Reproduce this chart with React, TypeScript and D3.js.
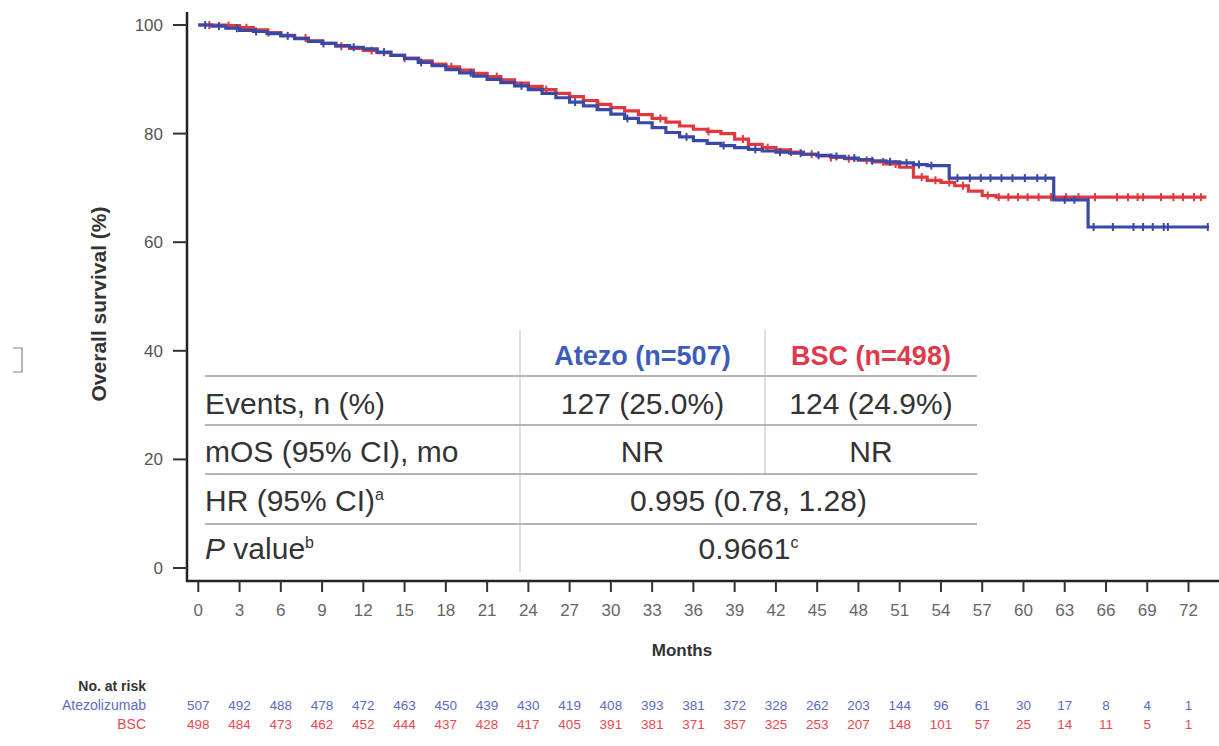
import { useMemo } from "react";
import * as d3 from "d3";

const xTicks = [0, 3, 6, 9, 12, 15, 18, 21, 24, 27, 30, 33, 36, 39, 42, 45, 48, 51, 54, 57, 60, 63, 66, 69, 72];
const yTicks = [0, 20, 40, 60, 80, 100];

// Atezolizumab KM steps
const atezoTimes = [0, 1, 2, 3, 4, 5, 6, 7, 8, 9, 10, 11, 12, 13, 14, 15, 16, 17, 18, 19, 20, 21, 22, 23, 24, 25, 26, 27, 28, 29, 30, 31, 32, 33, 34, 35, 36, 37, 38, 39, 40, 41, 42, 43, 44, 45, 46, 47, 48, 49, 50, 51, 52, 53, 54.6, 62.2, 64.7, 73.5];
const atezoSurv = [100, 99.8, 99.4, 99.0, 98.8, 98.4, 98.0, 97.5, 97.0, 96.6, 96.2, 95.9, 95.6, 95.0, 94.4, 93.8, 93.1, 92.5, 91.8, 91.2, 90.6, 90.0, 89.4, 88.8, 88.1, 87.4, 86.6, 85.8, 85.1, 84.4, 83.6, 82.8, 82.0, 81.1, 80.2, 79.4, 78.7, 78.2, 77.8, 77.4, 77.1, 76.8, 76.6, 76.4, 76.2, 76.0, 75.8, 75.5, 75.2, 75.0, 74.8, 74.6, 74.3, 74.1, 71.8, 67.8, 62.8, 62.8];
const atezoCensor = [0.5, 1.5, 2.8, 4.2, 6.5, 9.1, 11.3, 13.5, 16.2, 19.8, 23.5, 27.4, 31.2, 35.5, 38.2, 40.5, 42.3, 43.8, 45.1, 46.4, 47.7, 49.0, 50.3, 51.5, 52.4, 53.3, 55.2, 56.1, 56.9, 57.6, 58.4, 59.2, 60.1, 61.0, 61.6, 63.0, 63.7, 65.1, 66.5, 68.0, 68.7, 69.4, 70.2, 70.5, 73.4];

// BSC KM steps
const bscTimes = [0, 1, 2, 3, 4, 5, 6, 7, 8, 9, 10, 11, 12, 13, 14, 15, 16, 17, 18, 19, 20, 21, 22, 23, 24, 25, 26, 27, 28, 29, 30, 31, 32, 33, 34, 35, 36, 37, 38, 39, 40, 41, 42, 43, 44, 45, 46, 47, 48, 49, 50, 51, 52, 53, 54, 55, 56, 57, 58, 73.3];
const bscSurv = [100, 100, 99.9, 99.5, 99.1, 98.6, 98.1, 97.6, 97.1, 96.6, 96.1, 95.7, 95.3, 94.9, 94.4, 93.9, 93.4, 92.8, 92.3, 91.7, 91.1, 90.5, 89.9, 89.3, 88.7, 88.1, 87.4, 86.8, 86.1, 85.4, 84.8, 84.2, 83.5, 82.8, 82.1, 81.4, 80.8, 80.4, 80.0, 79.0, 78.0, 77.4, 77.0, 76.6, 76.2, 75.9, 75.6, 75.4, 75.1, 74.8, 74.4, 73.8, 72.0, 71.4, 71.0, 70.4, 69.4, 68.6, 68.3, 68.3];
const bscCensor = [0.8, 2.2, 3.5, 5.1, 7.8, 10.4, 12.6, 15.0, 18.4, 21.7, 25.3, 29.1, 33.6, 37.1, 39.6, 41.4, 43.1, 44.6, 46.0, 47.3, 48.6, 49.8, 50.7, 52.6, 53.6, 54.6, 55.6, 57.4, 58.2, 58.9, 59.6, 60.3, 61.1, 62.0, 63.1, 64.0, 65.2, 66.8, 67.6, 68.3, 68.7, 70.0, 70.9, 71.6, 72.4, 72.9];

const atezoRisk = [507, 492, 488, 478, 472, 463, 450, 439, 430, 419, 408, 393, 381, 372, 328, 262, 203, 144, 96, 61, 30, 17, 8, 4, 1];
const bscRisk = [498, 484, 473, 462, 452, 444, 437, 428, 417, 405, 391, 381, 371, 357, 325, 253, 207, 148, 101, 57, 25, 14, 11, 5, 1];

const BLUE = "#3a48a6";
const RED = "#e0383e";
const FONT = "'Liberation Sans', Arial, sans-serif";

export default function App() {
    const x = d3.scaleLinear().domain([0, 72]).range([198.3, 1188.5]);
    const y = d3.scaleLinear().domain([0, 100]).range([568, 25]);

    const line = d3
        .line<[number, number]>()
        .x((d) => x(d[0]))
        .y((d) => y(d[1]))
        .curve(d3.curveStepAfter);

    const arms = useMemo(() => {
        const mk = (times: number[], surv: number[], cens: number[], color: string) => {
            const pts = times.map((t, i) => [t, surv[i]] as [number, number]);
            const bis = d3.bisector((d: number) => d).right;
            const marks = cens.map((c) => {
                const i = Math.max(0, bis(times, c) - 1);
                return [c, surv[i]] as [number, number];
            });
            return { path: line(pts) || "", marks, color };
        };
        return [
            mk(bscTimes, bscSurv, bscCensor, RED),
            mk(atezoTimes, atezoSurv, atezoCensor, BLUE),
        ];
    }, []);

    const tableLeft = 205;
    const tableRight = 977;
    const col1 = 520;
    const col2 = 765;
    const rowLines = [376, 425, 474, 524];

    return (
        <svg width={1219} height={746} style={{ position: "absolute", left: 0, top: 0, background: "#fff" }} fontFamily={FONT}>
            {/* curves */}
            {arms.map((a, i) => (
                <g key={i}>
                    <path d={a.path} fill="none" stroke={a.color} strokeWidth={3.2} />
                    {a.marks.map((m, j) => (
                        <line key={j} x1={x(m[0])} x2={x(m[0])} y1={y(m[1]) - 4} y2={y(m[1]) + 4} stroke={a.color} strokeWidth={2} />
                    ))}
                </g>
            ))}

            {/* y axis */}
            <line x1={187} x2={187} y1={12} y2={582} stroke="#222" strokeWidth={2.5} />
            {yTicks.map((t) => (
                <g key={t}>
                    <line x1={173} x2={187} y1={y(t)} y2={y(t)} stroke="#333" strokeWidth={2} />
                    <text x={163} y={y(t) + 6} fontSize={17} fill="#555" textAnchor="end">{t}</text>
                </g>
            ))}
            <text transform="translate(106,304) rotate(-90)" fontSize={21} fontWeight="bold" fill="#333" textAnchor="middle">Overall survival (%)</text>

            {/* x axis */}
            <line x1={186} x2={1219} y1={581} y2={581} stroke="#222" strokeWidth={2.5} />
            {xTicks.map((t) => (
                <g key={t}>
                    <line x1={x(t)} x2={x(t)} y1={581} y2={592} stroke="#333" strokeWidth={2} />
                    <text x={x(t)} y={616} fontSize={17} fill="#666" textAnchor="middle">{t}</text>
                </g>
            ))}
            <text x={682} y={656} fontSize={17} fontWeight="bold" fill="#333" textAnchor="middle">Months</text>

            {/* bracket artifact */}
            <path d="M13,348 H22 V372 H13" fill="none" stroke="#888" strokeWidth={1.2} />

            {/* summary table */}
            <line x1={col1} x2={col1} y1={330} y2={572} stroke="#c8c8c8" strokeWidth={1.2} />
            <line x1={col2} x2={col2} y1={330} y2={474} stroke="#c8c8c8" strokeWidth={1.2} />
            {rowLines.map((ly) => (
                <line key={ly} x1={tableLeft} x2={tableRight} y1={ly} y2={ly} stroke="#b4b4b4" strokeWidth={2} />
            ))}
            <text x={(col1 + col2) / 2} y={365} fontSize={27} fontWeight="bold" fill="#3b5cbd" textAnchor="middle">Atezo (n=507)</text>
            <text x={(col2 + tableRight) / 2} y={365} fontSize={27} fontWeight="bold" fill="#e0394a" textAnchor="middle">BSC (n=498)</text>

            <g fontSize={30} fill="#333">
                <text x={tableLeft} y={414}>Events, n (%)</text>
                <text x={(col1 + col2) / 2} y={414} textAnchor="middle">127 (25.0%)</text>
                <text x={(col2 + tableRight) / 2} y={414} textAnchor="middle">124 (24.9%)</text>

                <text x={tableLeft} y={462}>mOS (95% CI), mo</text>
                <text x={(col1 + col2) / 2} y={462} textAnchor="middle">NR</text>
                <text x={(col2 + tableRight) / 2} y={462} textAnchor="middle">NR</text>

                <text x={tableLeft} y={511}>HR (95% CI)<tspan fontSize={16} dy={-11}>a</tspan></text>
                <text x={(col1 + tableRight) / 2} y={511} textAnchor="middle">0.995 (0.78, 1.28)</text>

                <text x={tableLeft} y={559}><tspan fontStyle="italic">P</tspan> value<tspan fontSize={16} dy={-11}>b</tspan></text>
                <text x={(col1 + tableRight) / 2} y={559} textAnchor="middle">0.9661<tspan fontSize={16} dy={-11}>c</tspan></text>
            </g>

            {/* number at risk */}
            <text x={146} y={691} fontSize={14} fontWeight="bold" fill="#333" textAnchor="end">No. at risk</text>
            <text x={146} y={710} fontSize={14} fill="#5a6cc4" textAnchor="end">Atezolizumab</text>
            <text x={146} y={729} fontSize={14} fill="#e84a52" textAnchor="end">BSC</text>
            {atezoRisk.map((v, i) => (
                <text key={"a" + i} x={x(xTicks[i])} y={710} fontSize={13.5} fill="#5a6cc4" textAnchor="middle">{v}</text>
            ))}
            {bscRisk.map((v, i) => (
                <text key={"b" + i} x={x(xTicks[i])} y={729} fontSize={13.5} fill="#e84a52" textAnchor="middle">{v}</text>
            ))}
        </svg>
    );
}
